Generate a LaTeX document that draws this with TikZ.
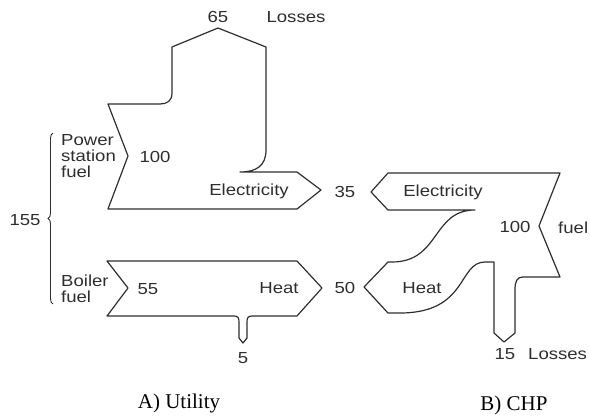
\documentclass[tikz,border=0pt]{standalone}
\usepackage{fontspec}
\setmainfont{Liberation Serif}
\newfontfamily\labfont[FakeStretch=1.16]{Liberation Sans}
\usetikzlibrary{decorations.pathreplacing}
\definecolor{ink}{HTML}{2E2E2E}
\tikzset{
  flow/.style={draw=ink, line width=1.2pt, line join=round},
  lab/.style={font=\labfont\fontsize{16}{16}\selectfont, text=ink, inner sep=0pt},
  stack/.style={lab, align=left, anchor=west},
  caption/.style={font=\fontsize{21}{24}\selectfont, text=black, inner sep=0pt}
}
\begin{document}
\begin{tikzpicture}[x=1pt, y=-1pt]
    \useasboundingbox (0,0) rectangle (590,418);
    % A) utility: power station
    \draw[flow] (108,104) -- (160,104) .. controls (167,104) and (172,101) .. (172,93)
      -- (172,47) -- (218,28) -- (266,47) -- (266,150)
      .. controls (266,166) and (256,172) .. (240,172)
      -- (297,172) -- (321,190) -- (297,209) -- (108,209) -- (128,156) -- cycle;
    % A) utility: boiler
    \draw[flow] (107,261) -- (297,261) -- (322,288) -- (297,316) -- (252,316)
      .. controls (248,316) and (247,318) .. (247,322) -- (247,338) -- (243,343)
      -- (239,338) -- (239,322) .. controls (239,318) and (238,316) .. (234,316)
      -- (107,316) -- (128,288) -- cycle;
    \draw[ink, line width=0.9pt, decoration={brace, amplitude=5pt}, decorate] (53,304) -- (53,133);
    % B) CHP
    \draw[flow] (371,192) -- (388,173) -- (560,173) -- (539,226) -- (560,277) -- (523,277)
      .. controls (517,277) and (515,281) .. (515,290) -- (515,333) -- (504,342)
      -- (494,333) -- (494,262) -- (485,262)
      .. controls (458,262) and (468,313) .. (400,313) -- (388,313)
      -- (364,287) -- (388,262) -- (392,262)
      .. controls (440,262) and (432,210) .. (475,210) -- (388,210) -- cycle;
    % labels
    \node[lab] (lossA) at (218,17) {65};
    \node[lab] (lossAt) at (296,17) {Losses};
    \node[stack] (psfuel) at (61,156) {Power\\station\\fuel};
    \node[lab] (inA) at (155,157) {100};
    \node[lab] (elA) at (249,191) {Electricity};
    \node[lab] (elval) at (345,192) {35};
    \node[lab] (total) at (25,220) {155};
    \node[stack] (bfuel) at (61,289) {Boiler\\fuel};
    \node[lab] (inB) at (148,289) {55};
    \node[lab] (heatA) at (279,288) {Heat};
    \node[lab] (lossB) at (243,358) {5};
    \node[lab] (heatval) at (345,288) {50};
    \node[lab] (elC) at (443,192) {Electricity};
    \node[lab] (inC) at (515,227) {100};
    \node[lab, anchor=west] (fuelC) at (558,228) {fuel};
    \node[lab] (heatC) at (422,288) {Heat};
    \node[lab] (lossC) at (505,354) {15};
    \node[lab, anchor=west] (lossCt) at (528,354) {Losses};
    \node[caption] (capA) at (179,403) {A) Utility};
    \node[caption] (capB) at (514,405) {B) CHP};
  \end{tikzpicture}
\end{document}
